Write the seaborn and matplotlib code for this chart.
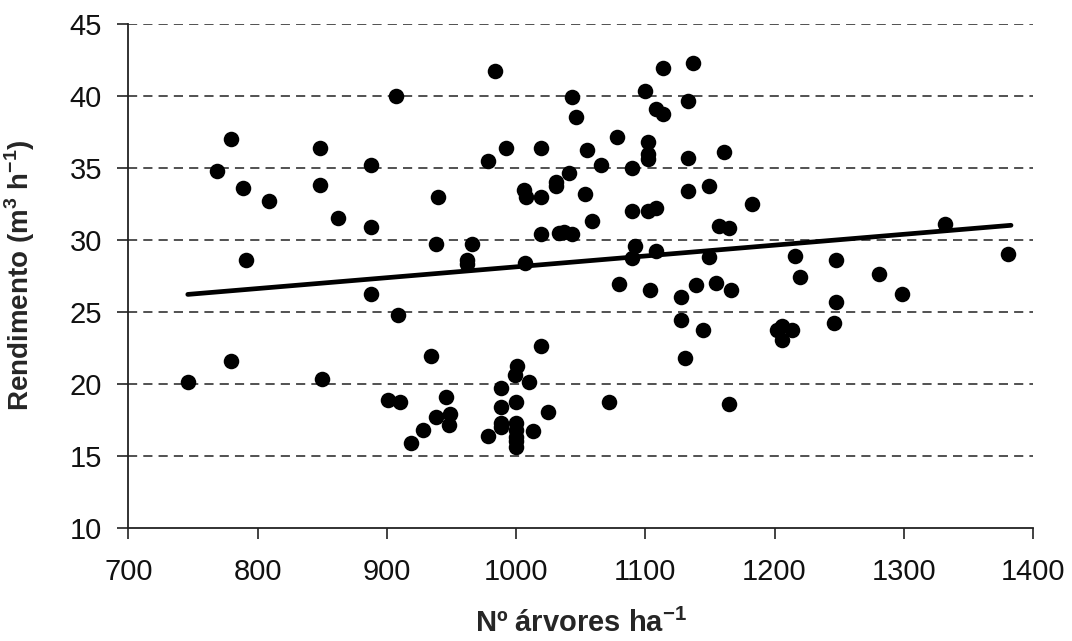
import matplotlib
matplotlib.use("Agg")
import matplotlib.pyplot as plt
import seaborn as sns
import pandas as pd

# Tree density (trees per hectare) and yield (m3 per hour)
arvores = [
    746, 769, 779.5, 779.5, 789, 791, 809, 848, 848, 850,
    862, 888, 888, 888, 901, 907, 909, 910, 919, 928,
    934, 938, 938, 940, 946, 949, 948.5, 962, 962, 966,
    978, 978, 984, 988, 988, 988, 988, 992, 999, 1000,
    1000, 1000, 1000, 1000, 1000, 1001, 1006, 1007, 1008, 1010,
    1013.5, 1019, 1019, 1019, 1019, 1025, 1031, 1031, 1033, 1037,
    1041, 1043, 1043, 1046.5, 1053, 1055, 1059, 1066, 1072, 1078.5,
    1080, 1090, 1090, 1090, 1092, 1100, 1102, 1102, 1102, 1102,
    1104, 1108, 1108, 1108, 1114, 1114, 1127.5, 1127.5, 1131, 1133,
    1133, 1133, 1137, 1139, 1145, 1149, 1149, 1155, 1157, 1161,
    1165, 1165, 1166.5, 1182.5, 1202, 1206, 1206, 1213.5, 1216, 1220,
    1246, 1247.5, 1247.5, 1281, 1298.6, 1332, 1381,
]
rendimento = [
    20.1, 34.8, 37.0, 21.6, 33.6, 28.6, 32.7, 36.4, 33.8, 20.3,
    31.5, 35.2, 30.9, 26.2, 18.9, 40.0, 24.8, 18.7, 15.9, 16.8,
    21.9, 17.7, 29.7, 33.0, 19.1, 17.9, 17.1, 28.3, 28.6, 29.7,
    35.5, 16.4, 41.7, 19.7, 18.4, 17.3, 17.0, 36.4, 20.6, 18.75,
    17.25, 16.8, 16.3, 16.0, 15.6, 21.2, 33.45, 28.4, 33.0, 20.1,
    16.7, 36.4, 33.0, 30.4, 22.6, 18.05, 34.0, 33.7, 30.45, 30.55,
    34.65, 39.9, 30.4, 38.5, 33.2, 36.2, 31.3, 35.2, 18.75, 37.1,
    26.9, 35.0, 32.0, 28.7, 29.55, 40.3, 36.8, 35.95, 35.6, 32.0,
    26.5, 39.1, 32.2, 29.2, 41.9, 38.7, 26.0, 24.4, 21.8, 39.6,
    35.7, 33.4, 42.25, 26.85, 23.7, 33.75, 28.8, 27.0, 30.95, 36.1,
    30.8, 18.6, 26.5, 32.5, 23.7, 24.0, 23.0, 23.7, 28.9, 27.4,
    24.2, 28.6, 25.65, 27.6, 26.2, 31.1, 29.0,
]

# Linear trend line endpoints
tendencia_x = [746, 1383]
tendencia_y = [26.2, 31.0]

x_ticks = [700, 800, 900, 1000, 1100, 1200, 1300, 1400]
y_ticks = [10, 15, 20, 25, 30, 35, 40, 45]

df = pd.DataFrame({"arvores": arvores, "rendimento": rendimento})
df_trend = pd.DataFrame({"x": tendencia_x, "y": tendencia_y})

sns.set_theme(style="white")
plt.rcParams["font.family"] = ["Liberation Sans", "DejaVu Sans"]
plt.rcParams["mathtext.fontset"] = "custom"
plt.rcParams["mathtext.rm"] = "Liberation Sans"
plt.rcParams["mathtext.bf"] = "Liberation Sans:bold"

fig = plt.figure(figsize=(10.72, 6.41), dpi=100)
ax = fig.add_axes([0.1197, 0.1768, 0.8439, 0.7862])

# dashed horizontal grid
for yv in y_ticks[1:]:
    ax.axhline(yv, color="#222222", lw=1.1, ls=(0, (6, 4)), zorder=0)

sns.lineplot(data=df_trend, x="x", y="y", ax=ax, color="black", lw=3.4,
             zorder=2, legend=False)
sns.scatterplot(data=df, x="arvores", y="rendimento", ax=ax, color="black",
                s=125, edgecolor="black", linewidth=0, zorder=3, legend=False)

ax.set_xlim(700, 1400)
ax.set_ylim(10, 45)
ax.set_xticks(x_ticks)
ax.set_yticks(y_ticks)
ax.set_xticklabels([str(v) for v in x_ticks])
ax.set_yticklabels([str(v) for v in y_ticks])

for side in ["top", "right"]:
    ax.spines[side].set_visible(False)
for side in ["left", "bottom"]:
    ax.spines[side].set_color("#222222")
    ax.spines[side].set_linewidth(1.3)

ax.tick_params(axis="both", which="major", direction="out", length=8,
               width=1.2, color="#222222", labelsize=21, labelcolor="#111111",
               bottom=True, left=True)
ax.tick_params(axis="x", pad=14)
ax.tick_params(axis="y", pad=11)

ax.set_xlabel(r"Nº árvores ha$^{\mathbf{-1}}$", fontsize=21,
              fontweight="bold", labelpad=16)
ax.set_ylabel(r"Rendimento (m$^{\mathbf{3}}$ h$^{\mathbf{-1}}$)", fontsize=20,
              fontweight="bold")
ax.yaxis.set_label_coords(-0.101, 0.5)

fig.savefig("out.png", dpi=100, facecolor="white")
